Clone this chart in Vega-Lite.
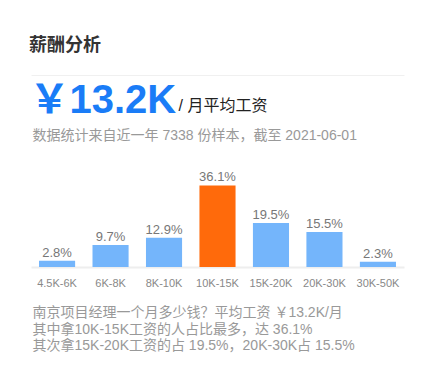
{
  "$schema": "https://vega.github.io/schema/vega-lite/v6.json",
  "width": 373,
  "height": 192,
  "autosize": {"type": "none"},
  "padding": {"left": 31, "top": 75, "right": 30, "bottom": 110},
  "background": "white",
  "config": {
    "font": "Liberation Sans, Noto Sans CJK SC",
    "view": {"stroke": null}
  },
  "title": {
    "text": "薪酬分析",
    "anchor": "start",
    "fontSize": 18,
    "fontWeight": "bold",
    "color": "#333333",
    "offset": 20
  },
  "data": {
    "values": [
      {"range": "4.5K-6K", "pct": 0.028},
      {"range": "6K-8K", "pct": 0.097},
      {"range": "8K-10K", "pct": 0.129},
      {"range": "10K-15K", "pct": 0.361},
      {"range": "15K-20K", "pct": 0.195},
      {"range": "20K-30K", "pct": 0.155},
      {"range": "30K-50K", "pct": 0.023}
    ]
  },
  "layer": [
    {
      "mark": {"type": "bar"},
      "encoding": {
        "x": {
          "field": "range", "type": "nominal", "sort": null,
          "scale": {"paddingInner": 0.325, "paddingOuter": 0.15},
          "axis": {
            "orient": "bottom", "domainColor": "#eeeeee", "domainWidth": 2,
            "ticks": false, "tickSize": 0, "labelPadding": 19, "labelAngle": 0,
            "labelFontSize": 11, "labelColor": "#888888", "labelBaseline": "alphabetic",
            "title": ["南京项目经理一个月多少钱？平均工资 ￥13.2K/月", "其中拿10K-15K工资的人占比最多，达 36.1%", "其次拿15K-20K工资的占 19.5%，20K-30K占 15.5%"],
            "titleX": 1, "titleY": 49.5, "titleAlign": "left", "titleAnchor": null,
            "titleBaseline": "alphabetic", "titleFontSize": 14, "titleFontWeight": "normal",
            "titleColor": "#999999", "titleLineHeight": 16.5, "titleAngle": 0
          }
        },
        "y": {
          "field": "pct", "type": "quantitative",
          "scale": {"domain": [0, 0.85], "nice": false},
          "axis": {
            "orient": "left", "domain": false, "ticks": false, "labels": false, "grid": false,
            "title": "/ 月平均工资", "titleAngle": 0, "titleX": 147, "titleY": 35,
            "titleAlign": "left", "titleBaseline": "alphabetic", "titleFontSize": 16,
            "titleFontWeight": "normal", "titleColor": "#222222"
          }
        },
        "color": {
          "condition": {"test": "datum.range === '10K-15K'", "value": "#ff6a0b"},
          "value": "#74b5fb"
        }
      }
    },
    {
      "mark": {"type": "text", "baseline": "alphabetic", "dy": -4, "fontSize": 13, "color": "#777777"},
      "encoding": {
        "x": {
          "field": "range", "type": "nominal", "sort": null,
          "axis": {
            "orient": "top", "domainColor": "#f0f0f0", "domainWidth": 1,
            "ticks": false, "labels": false, "grid": false,
            "title": "￥13.2K", "titleX": -2, "titleY": 37, "titleAlign": "left",
            "titleAnchor": null, "titleBaseline": "alphabetic", "titleFontSize": 40,
            "titleFontWeight": "bold", "titleColor": "#1a7cf7", "titleAngle": 0
          }
        },
        "y": {
          "field": "pct", "type": "quantitative",
          "axis": {
            "orient": "right", "domain": false, "ticks": false, "labels": false, "grid": false,
            "title": "数据统计来自近一年 7338 份样本，截至 2021-06-01", "titleAngle": 0,
            "titleX": -372, "titleY": 64, "titleAlign": "left", "titleBaseline": "alphabetic",
            "titleFontSize": 14, "titleFontWeight": "normal", "titleColor": "#999999"
          }
        },
        "text": {"field": "pct", "type": "quantitative", "format": ".1%"}
      }
    }
  ],
  "resolve": {"axis": {"x": "independent", "y": "independent"}}
}
